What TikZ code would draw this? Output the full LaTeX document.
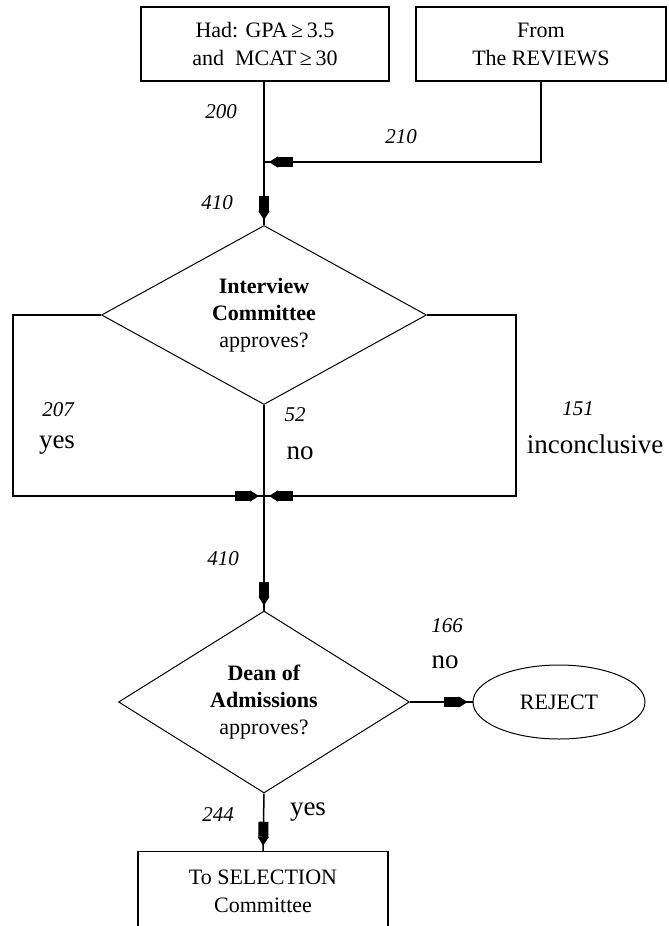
\documentclass[tikz,border=0pt]{standalone}
\usepackage{fontspec}
\setmainfont{Liberation Serif}
\usetikzlibrary{shapes.geometric,arrows.meta,decorations.markings}

\tikzset{
  panel/.style={draw, line width=1.5pt, minimum width=248pt, minimum height=74pt, inner sep=0pt, align=center, font=\fontsize{22}{28}\selectfont},
  ask/.style={draw, diamond, line width=1pt, inner sep=0pt, align=center, font=\fontsize{22}{27}\selectfont},
  endnode/.style={draw, ellipse, line width=1pt, inner sep=0pt, minimum width=172pt, minimum height=74pt, font=\fontsize{22}{27}\selectfont},
  num/.style={font=\fontsize{21}{24}\selectfont\itshape},
  word/.style={font=\fontsize{27}{30}\selectfont},
  flow/.style={line width=1.5pt, postaction={decorate}, decoration={markings,
      mark=at position -5pt with {\arrow{Triangle[length=9pt,width=11pt]}},
      mark=at position -14pt with {\arrow{Rectangle[length=15pt,width=10pt]}}}}
}

\begin{document}
\begin{tikzpicture}[x=1pt, y=-1pt]
  \useasboundingbox (0,0) rectangle (669,926);

  \node[panel] (gpa) at (265,44) {Had: GPA\,≥\,3.5\\and\ \ MCAT\,≥\,30};
  \node[panel, minimum width=250pt] (rev) at (541,44) {From\\The REVIEWS};
  \node[ask, minimum width=325pt, minimum height=179pt] (intv) at (264,315) {\textbf{Interview}\\\textbf{Committee}\\approves?};
  \node[ask, minimum width=291pt, minimum height=182pt] (dean) at (264,702) {\textbf{Dean of}\\\textbf{Admissions}\\approves?};
  \node[endnode] (rej) at (559,702) {REJECT};
  \node[panel, minimum width=250pt, minimum height=79pt] (sel) at (263,891) {To SELECTION\\Committee};

  \coordinate (join) at (264,162);
  \coordinate (merge) at (264,496);
  \coordinate (lft) at (13,315);
  \coordinate (rgt) at (516,315);

  \draw[flow] (gpa.south -| intv.north) -- (intv.north);
  \draw[flow] (rev.south) |- (join);
  \draw[flow] (intv.west) -- (lft) |- (merge);
  \draw[flow] (intv.east) -- (rgt) |- (merge);
  \draw[flow] (intv.south) -- (dean.north);
  \draw[flow] (dean.east) -- (rej.west);
  \draw[flow] (dean.south) -- (sel.north);

  \node[num] (n200) at (221,112) {200};
  \node[num] (n210) at (401,137) {210};
  \node[num] (n410a) at (217,203) {410};
  \node[num] (n207) at (58,410) {207};
  \node[word] (yesA) at (57,445) {yes};
  \node[num] (n52) at (295,415) {52};
  \node[word] (noA) at (300,453) {no};
  \node[num] (n151) at (578,409) {151};
  \node[word] (incl) at (595,444) {inconclusive};
  \node[num] (n410b) at (223,559) {410};
  \node[num] (n166) at (447,626) {166};
  \node[word] (noB) at (445,662) {no};
  \node[num] (n244) at (218,815) {244};
  \node[word] (yesB) at (308,812) {yes};
\end{tikzpicture}
\end{document}
